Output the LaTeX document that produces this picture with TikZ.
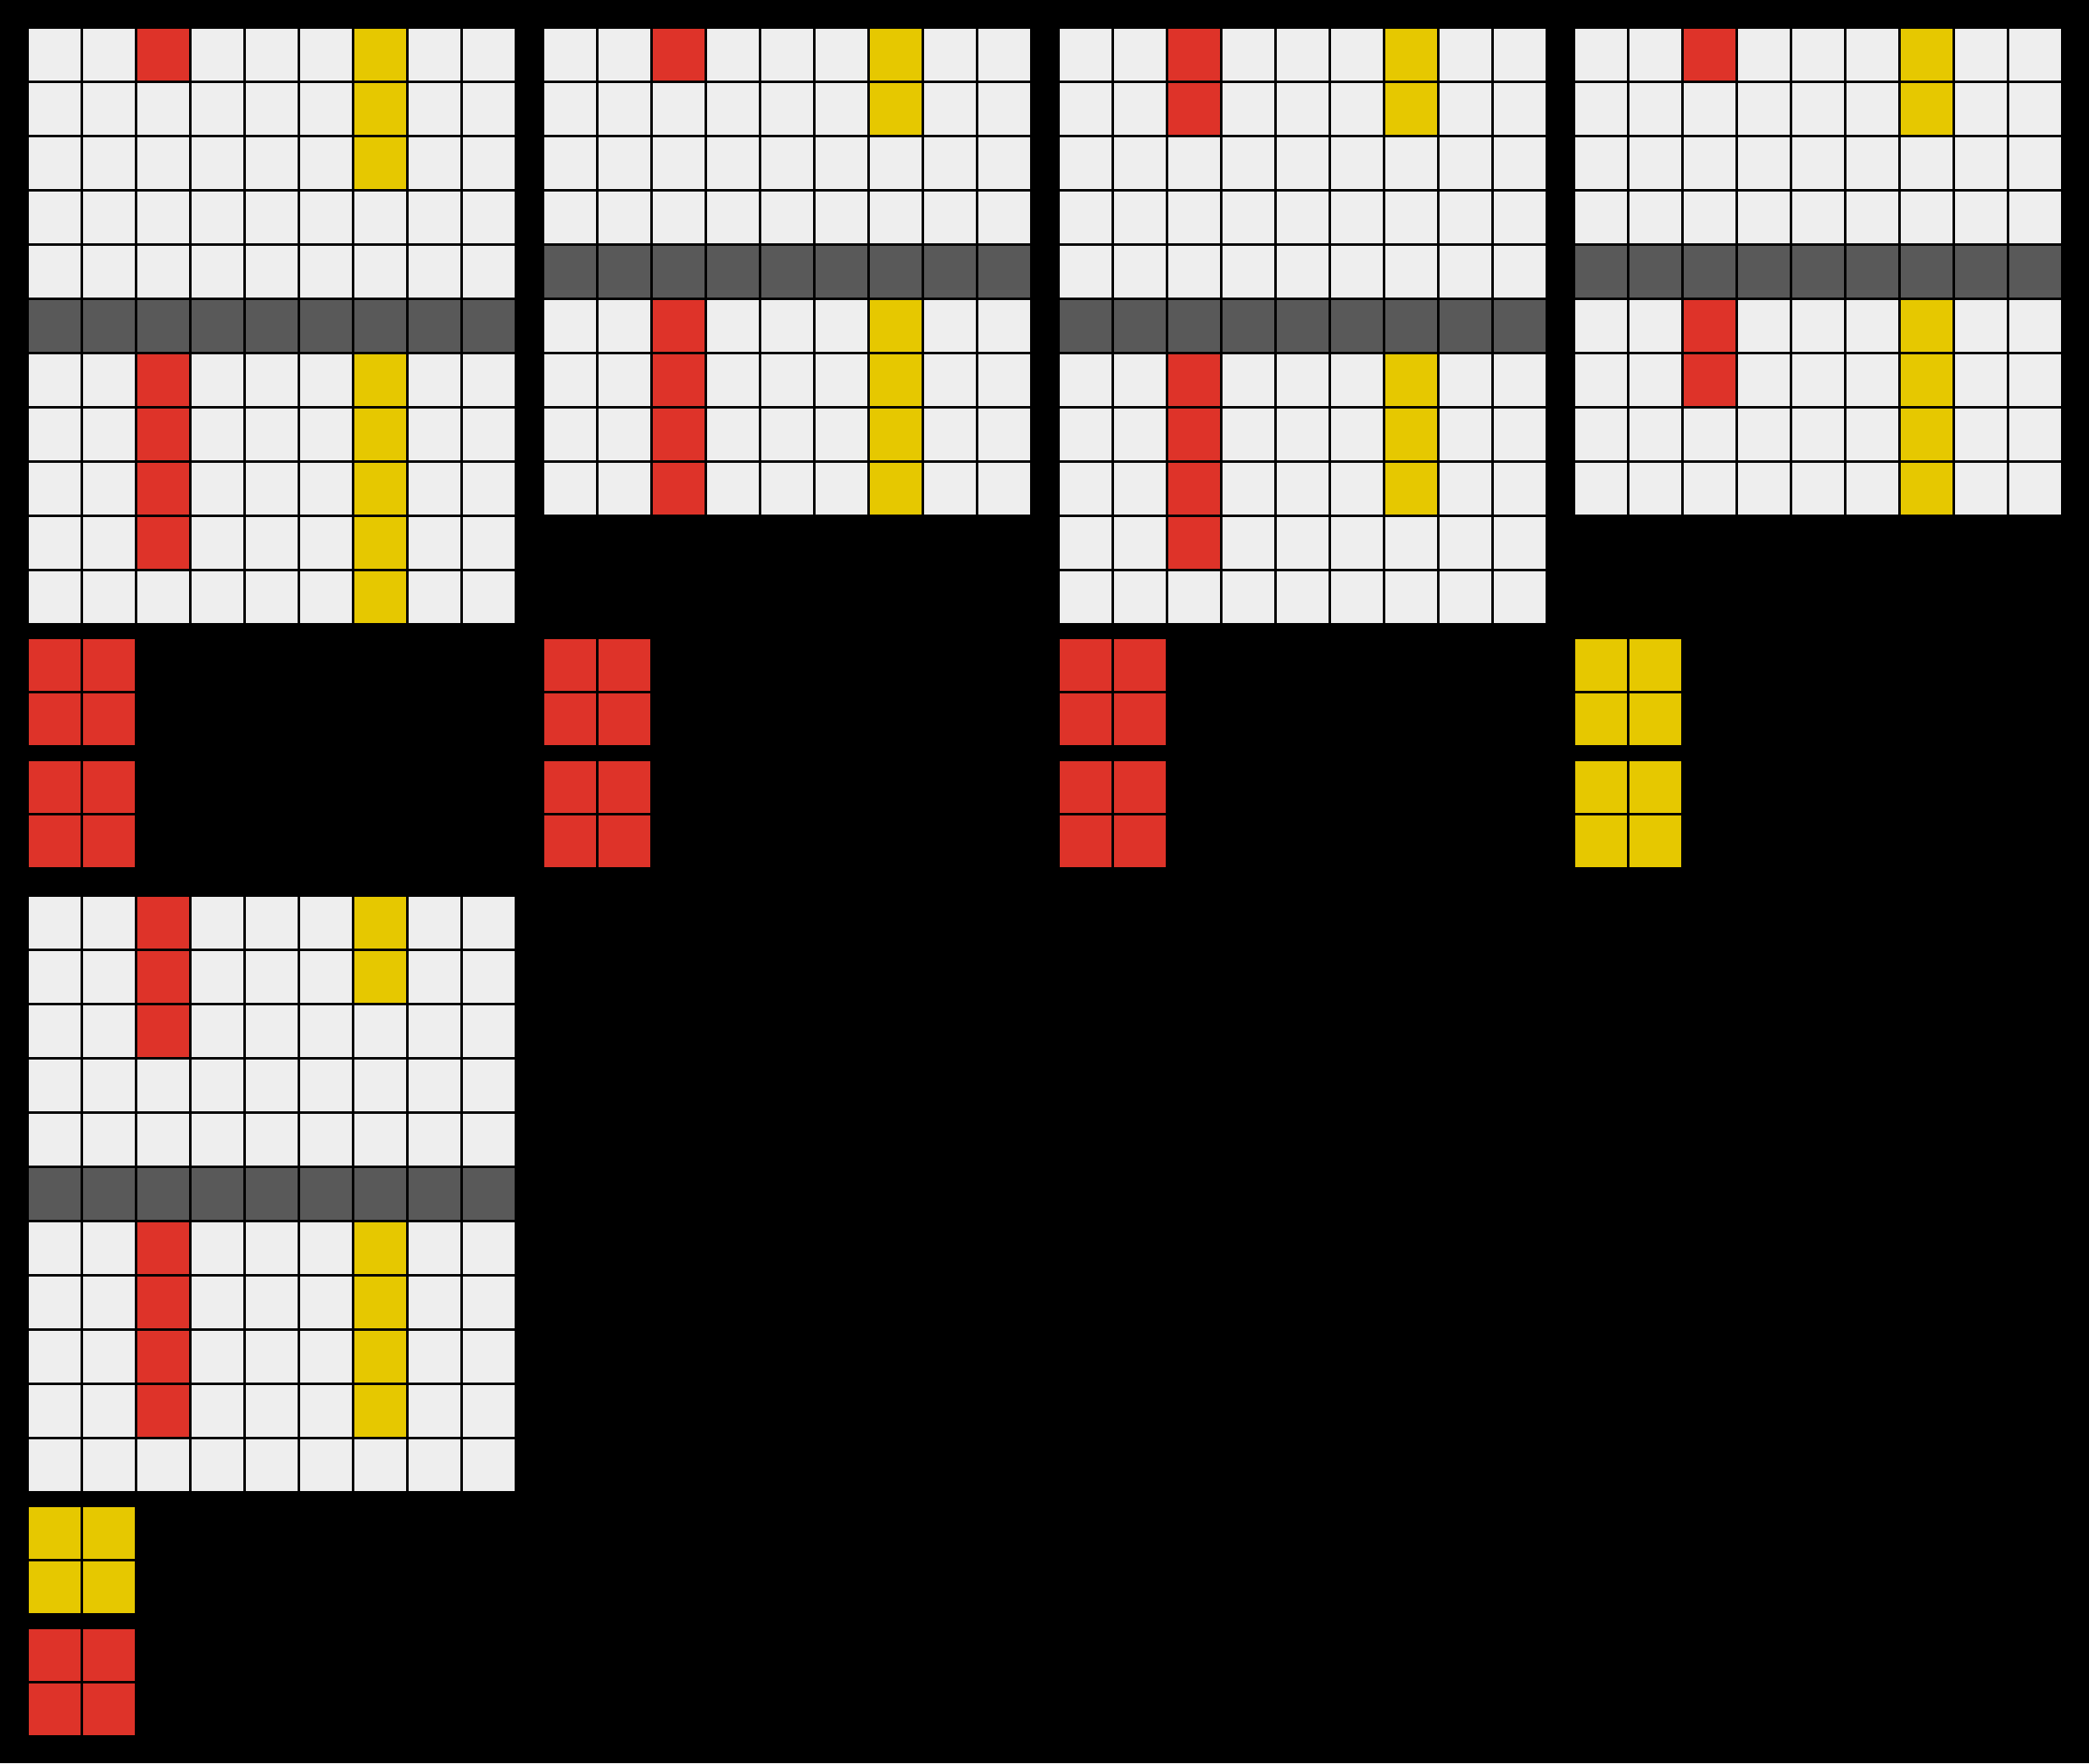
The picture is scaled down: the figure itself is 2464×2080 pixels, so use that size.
\documentclass[tikz,border=0pt]{standalone}
\definecolor{cw}{HTML}{EEEEEE}
\definecolor{cr}{HTML}{DE3329}
\definecolor{cy}{HTML}{E6C800}
\definecolor{cd}{HTML}{595959}
\tikzset{cellst/.style={draw=black, line width=3pt}}
\newcommand\basegrid[4]{\foreach \ii in {1,...,#3}{\foreach \jj in {1,...,#4}{\draw[cellst, fill=cw] ({#1+64*(\ii-1)},{#2+64*(\jj-1)}) rectangle ++(64,64);}}}
\newcommand\paintcells[3]{\foreach \ii/\jj/\cc in {#3}{\draw[cellst, fill=\cc] ({#1+64*\ii},{#2+64*\jj}) rectangle ++(64,64);}}
\newcommand\darkrow[3]{\foreach \ii in {0,...,8}{\draw[cellst, fill=cd] ({#1+64*\ii},{#2+64*#3}) rectangle ++(64,64);}}
\newcommand\solid[3]{\foreach \ii in {0,1}{\foreach \jj in {0,1}{\draw[cellst, fill=#3] ({#1+64*\ii},{#2+64*\jj}) rectangle ++(64,64);}}}
\begin{document}
\begin{tikzpicture}[x=1pt,y=-1pt]
\fill[black] (0,0) rectangle (2464,2080);
\useasboundingbox (0,0) rectangle (2464,2080);
% Grid 1
\basegrid{32}{32}{9}{11}
\darkrow{32}{32}{5}
\paintcells{32}{32}{2/0/cr,2/6/cr,2/7/cr,2/8/cr,2/9/cr,6/0/cy,6/1/cy,6/2/cy,6/6/cy,6/7/cy,6/8/cy,6/9/cy,6/10/cy}
\solid{32}{752}{cr}
\solid{32}{896}{cr}
% Grid 2
\basegrid{640}{32}{9}{9}
\darkrow{640}{32}{4}
\paintcells{640}{32}{2/0/cr,2/5/cr,2/6/cr,2/7/cr,2/8/cr,6/0/cy,6/1/cy,6/5/cy,6/6/cy,6/7/cy,6/8/cy}
\solid{640}{752}{cr}
\solid{640}{896}{cr}
% Grid 3
\basegrid{1248}{32}{9}{11}
\darkrow{1248}{32}{5}
\paintcells{1248}{32}{2/0/cr,2/1/cr,2/6/cr,2/7/cr,2/8/cr,2/9/cr,6/0/cy,6/1/cy,6/6/cy,6/7/cy,6/8/cy}
\solid{1248}{752}{cr}
\solid{1248}{896}{cr}
% Grid 4
\basegrid{1856}{32}{9}{9}
\darkrow{1856}{32}{4}
\paintcells{1856}{32}{2/0/cr,2/5/cr,2/6/cr,6/0/cy,6/1/cy,6/5/cy,6/6/cy,6/7/cy,6/8/cy}
\solid{1856}{752}{cy}
\solid{1856}{896}{cy}
% Grid 5
\basegrid{32}{1056}{9}{11}
\darkrow{32}{1056}{5}
\paintcells{32}{1056}{2/0/cr,2/1/cr,2/2/cr,2/6/cr,2/7/cr,2/8/cr,2/9/cr,6/0/cy,6/1/cy,6/6/cy,6/7/cy,6/8/cy,6/9/cy}
\solid{32}{1776}{cy}
\solid{32}{1920}{cr}
\end{tikzpicture}
\end{document}
